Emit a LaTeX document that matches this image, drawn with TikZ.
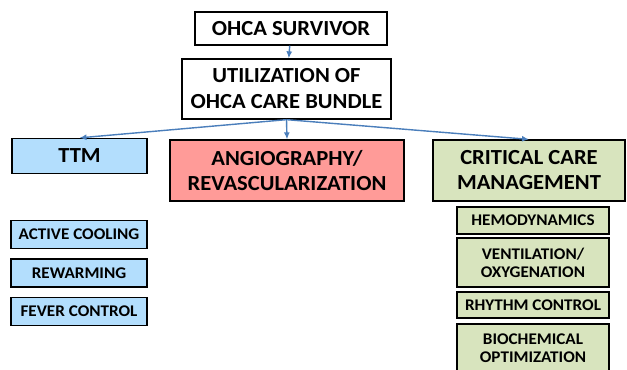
\documentclass[tikz,border=0pt]{standalone}
\usepackage{fontspec}
\setmainfont{Carlito}[FakeStretch=1.05]
\definecolor{myblue}{HTML}{B3DEFD}
\definecolor{myred}{HTML}{FF9B98}
\definecolor{mygreen}{HTML}{D8E4BE}
\definecolor{myarrow}{HTML}{4A7EBB}
\usetikzlibrary{positioning, arrows.meta}
\tikzset{
	defaultnode/.style={
			rectangle,
			draw=black,
			line width=1.3bp,
			fill=white,
			align=center,
			inner sep=0pt,
			font=\fontsize{21.5bp}{26bp}\selectfont\bfseries
		},
	bignode/.style={
			defaultnode,
			font=\fontsize{21.5bp}{25bp}\selectfont\bfseries
		},
	smallnode/.style={
			defaultnode,
			line width=1.1bp,
			font=\fontsize{16.3bp}{18bp}\selectfont\bfseries
		},
	bluenode/.style={
			fill=myblue
		},
	rednode/.style={
			fill=myred
		},
	greennode/.style={
			fill=mygreen
		},
	arrowline/.style={
			draw=myarrow,
			line width=1.4bp,
			-{Latex[length=7bp,width=6bp]}
		}
}

\begin{document}
\begin{tikzpicture}[x=1bp, y=-1bp]
\useasboundingbox (0,0) rectangle (627,369);
\clip (0,0) rectangle (627,369);

\node[defaultnode, minimum width=192bp, minimum height=33bp] (n1) at (291,28.5) {OHCA SURVIVOR};
\node[defaultnode, minimum width=209bp, minimum height=60bp] (n2) at (286.5,89) {UTILIZATION OF\\OHCA CARE BUNDLE};

\node[bignode, bluenode, minimum width=135bp, minimum height=35bp] (n3) at (79.5,156) {TTM};
\node[bignode, rednode, minimum width=234bp, minimum height=61bp] (n4) at (287,170.5) {ANGIOGRAPHY/\\REVASCULARIZATION};
\node[bignode, greennode, minimum width=192bp, minimum height=61bp] (n5) at (529,170.5) {CRITICAL CARE\\MANAGEMENT};

\node[smallnode, bluenode, minimum width=136bp, minimum height=28bp] (n6) at (79,234.5) {ACTIVE COOLING};
\node[smallnode, bluenode, minimum width=136bp, minimum height=28bp] (n7) at (79,273) {REWARMING};
\node[smallnode, bluenode, minimum width=136bp, minimum height=28bp] (n8) at (79,311.5) {FEVER CONTROL};

\node[smallnode, greennode, minimum width=152bp, minimum height=27bp] (n9) at (533,220.5) {HEMODYNAMICS};
\node[smallnode, greennode, minimum width=152bp, minimum height=49bp] (n10) at (533,262.5) {VENTILATION/\\OXYGENATION};
\node[smallnode, greennode, minimum width=152bp, minimum height=26bp] (n11) at (533,305) {RHYTHM CONTROL};
\node[smallnode, greennode, minimum width=152bp, minimum height=48bp] (n12) at (533,348) {BIOCHEMICAL\\OPTIMIZATION};

\draw[arrowline] (n1) -- (n2);

\draw[arrowline] (n2.south) -- (n3.north);
\draw[arrowline] (n2.south) -- (n4.north);
\draw[arrowline] (n2.south) -- (n5.north);

\end{tikzpicture}
\end{document}
